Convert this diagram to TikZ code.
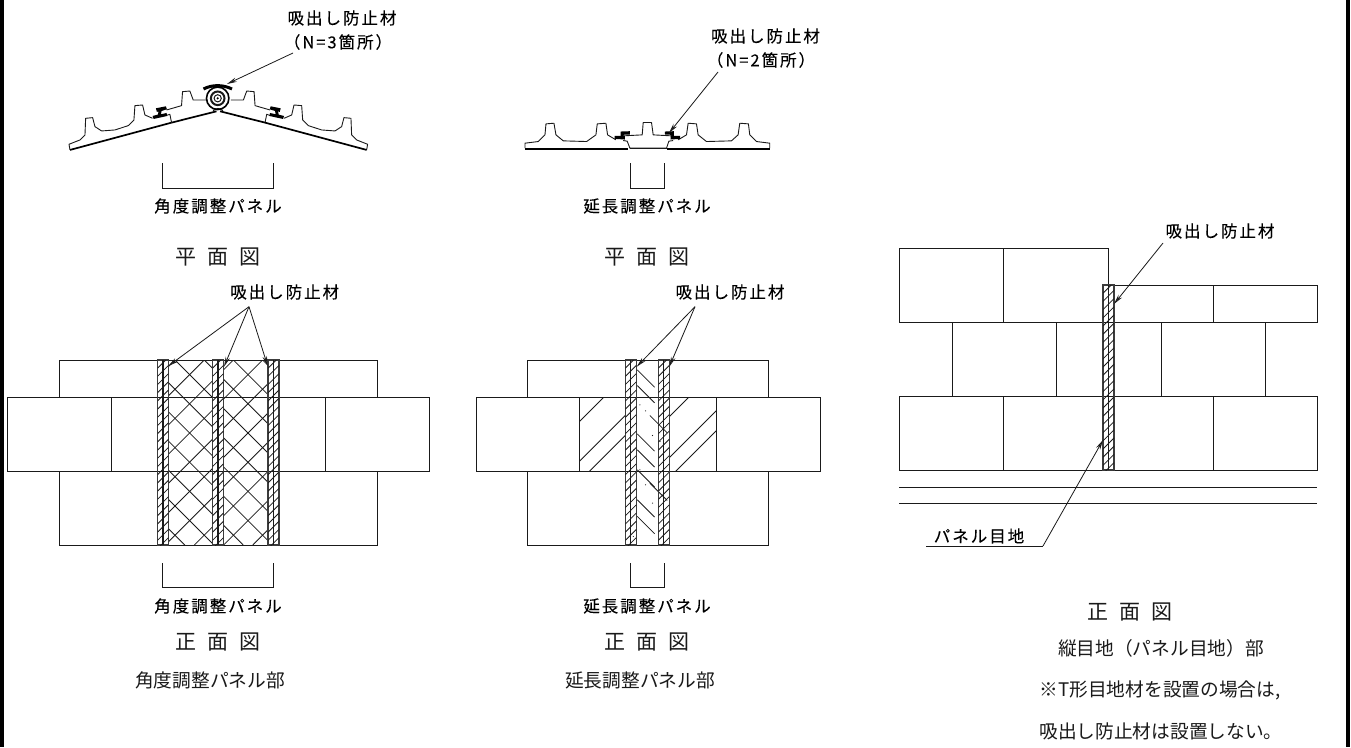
\documentclass[tikz,border=0pt]{standalone}
\usepackage{fontspec}
\usetikzlibrary{arrows.meta}
\newfontfamily\jplabel[LetterSpace=12,FakeBold=0.2]{Noto Sans CJK JP}
\newfontfamily\jpcap{Noto Sans CJK JP}
\definecolor{ink}{HTML}{1A1A1A}
\tikzset{
  ln/.style={draw=ink,line width=1pt},
  hl/.style={draw=ink,line width=.8pt},
  thin prof/.style={draw=ink,line width=.9pt,line join=round},
  leader/.style={draw=ink,line width=.8pt,-{Stealth[length=10pt,width=4.5pt,open,fill=gray]}},
  leadern/.style={draw=ink,line width=.8pt},
  lab/.style={font=\jplabel\fontsize{16.5}{18}\selectfont,inner sep=0pt,text=black},
  captxt/.style={font=\jpcap\fontsize{18.7}{22}\selectfont,inner sep=0pt,text=ink},
  capwide/.style={font=\jpcap\fontsize{21}{24}\selectfont,inner sep=0pt,text=ink},
}
\newcommand{\jstrip}[3]{%
  % #1 left x, #2 top y, #3 bottom y
  \draw[draw=ink!85,line width=1.2pt] (#1,#3) -- (#1,#2) -- (#1+11,#2) -- (#1+11,#3) -- cycle;
  \draw[draw=ink,line width=1.1pt] (#1+5.5,#2) -- (#1+5.5,#3);
  \begin{scope}
    \clip (#1,#2) rectangle (#1+11,#3);
    \foreach \yy in {0,8.2,...,230}{\draw[hl] (#1,#2+\yy) -- ++(11,-11);}
  \end{scope}}
\newcommand{\brk}[4]{\draw[ln] (#1,#3) -- (#1,#4) -- (#2,#4) -- (#2,#3);}
\newcommand{\wingprofile}{%
  \draw[thin prof] (30,195) -- (27,178) -- (60,165) -- (75,150) -- (77,100) -- (98,98) -- (105,125) -- (125,138) -- (165,135) -- (205,122) -- (222,105) -- (225,62) -- (248,60) -- (255,90) -- (278,100);
  \draw[thin prof] (318,92) -- (330,88) -- (335,113);
  \draw[thin prof] (320,75) -- (365,62) -- (368,20) -- (390,18) -- (400,45) -- (438,45);
  \draw[draw=black,line width=1.7pt] (30,195) -- (335,113);
  \draw[draw=black,line width=1.7pt] (335,113) -- (470,79);
  \fill[black] (288,70) -- (318,64) -- (321,73) -- (305,78) -- (303,88) -- (320,84) -- (322,93) -- (281,102) -- (278,93) -- (294,89) -- (296,79) -- (291,81) -- cycle;}
\begin{document}
\begin{tikzpicture}[x=1pt,y=-1pt]
\useasboundingbox (0,0) rectangle (1351,747);
\fill[white] (0,0) rectangle (1351,747);
\fill[black] (0,0) rectangle (4,747);
\fill[black] (1345.5,0) rectangle (1349.5,747);

%% ---- plan, angle panel
\begin{scope}[shift={(60,85)},x=.333pt,y=-.333pt]\wingprofile\end{scope}
\begin{scope}[shift={(376.6,85)},x=-.333pt,y=-.333pt]\wingprofile\end{scope}
\draw[draw=black,line width=1.6pt] (217.7,98.3) circle (11.2);
\draw[draw=ink,line width=2pt] (217.7,98.3) circle (6.8);
\draw[draw=ink,line width=1pt] (217.7,98.3) circle (3.6);
\fill[black] (217.7,98.3) circle (1.2);
\draw[draw=black,line width=3pt] (203.5,89) .. controls (212,84.5) and (223,84.5) .. (232,89);
\draw[draw=black,line width=1pt] (213,110.5) -- (218,108.5) -- (223,110.5);

%% ---- plan, extension panel
\begin{scope}[shift={(510,0)},x=.333pt,y=-.333pt]
  \draw[thin prof] (45,445) -- (45,430) -- (85,425) -- (105,405) -- (108,372) -- (132,370) -- (138,405) -- (160,423) -- (230,425) -- (258,405) -- (262,372) -- (288,370) -- (293,405) -- (318,420);
  \draw[thin prof] (780,445) -- (780,430) -- (740,425) -- (720,405) -- (716,372) -- (690,370) -- (685,405) -- (665,423) -- (590,425) -- (565,405) -- (560,372) -- (535,370) -- (530,405) -- (505,420);
  \draw[thin prof] (340,408) -- (397,405) -- (400,368) -- (425,368) -- (430,405) -- (485,408);
  \draw[thin prof] (340,422) -- (352,424) -- (360,445) -- (470,445) -- (477,424) -- (490,422);
  \draw[draw=black,line width=2pt] (45,447) -- (353,447);
  \draw[draw=black,line width=2pt] (472,447) -- (780,447);
  \draw[draw=ink,line width=.8pt] (360,446) -- (470,446);
  \fill[black] (332,395) -- (360,394) -- (360,404) -- (343,404) -- (340,408) -- (332,408) -- cycle;
  \fill[black] (314,408) -- (345,408) -- (345,419) -- (314,417) -- cycle;
  \fill[black] (465,395) -- (492,394) -- (492,408) -- (485,408) -- (480,404) -- (465,404) -- cycle;
  \fill[black] (482,408) -- (511,408) -- (511,417) -- (482,419) -- cycle;
\end{scope}

%% ---- front, angle panel
\draw[ln] (59,397) -- (59,360) -- (377,360) -- (377,397);
\draw[ln] (7,397) rectangle (429,471);
\draw[ln] (111,397) -- (111,471);
\draw[ln] (325,397) -- (325,471);
\draw[ln] (59,471) -- (59,545) -- (377,545) -- (377,471);
\begin{scope}
  \clip (168.5,360) rectangle (212.5,545) (223.5,360) rectangle (268,545);
  \foreach \k in {-7,...,7}{
    \draw[hl] (175+29.2*\k,360) -- ++(185,185);
    \draw[hl] (175+29.2*\k+146,360) -- ++(-185,185);
  }
\end{scope}
\jstrip{157.5}{360}{545}
\jstrip{212.5}{360}{545}
\jstrip{268}{360}{545}

%% ---- front, extension panel
\draw[ln] (527,397) -- (527,360) -- (768,360) -- (768,397);
\draw[ln] (476,397) rectangle (820,471);
\draw[ln] (579,397) -- (579,471);
\draw[ln] (716,397) -- (716,471);
\draw[ln] (527,471) -- (527,545) -- (768,545) -- (768,471);
\begin{scope}
  \clip (579,397) rectangle (625.5,471);
  \foreach \s in {1001,1040.7,1060.7}{\draw[hl] (560,\s-560) -- ++(100,-100);}
\end{scope}
\begin{scope}
  \clip (669,397) rectangle (716,471);
  \foreach \s in {1086,1127,1147}{\draw[hl] (660,\s-660) -- ++(100,-100);}
\end{scope}
\begin{scope}[shift={(560,270)},x=.333pt,y=-.333pt]
  \foreach \a/\b in {232/300,232/347,270/437,232/492,232/540,232/600,270/640,232/690,232/740}{
    \draw[draw=ink,line width=.8pt] (\a,\b) -- ++(52,52);
  }
  \foreach \p/\q in {240/405,257/423,278/497,240/600,257/645,278/700,222/540,300/515,300/735,220/800}{
    \fill[ink] (\p,\q) circle (1.8);
  }
\end{scope}
\jstrip{625.3}{360}{545}
\jstrip{658.3}{360}{545}

%% ---- front, vertical joint
\draw[ln] (1108,285) -- (1108,248) -- (899,248) -- (899,322) -- (1317,322) -- (1317,285) -- (1103,285);
\draw[ln] (1003,248) -- (1003,322);
\draw[ln] (1213,285) -- (1213,322);
\draw[ln] (952,322) -- (952,396);
\draw[ln] (1056,322) -- (1056,396);
\draw[ln] (1161,322) -- (1161,396);
\draw[ln] (1265,322) -- (1265,396);
\draw[ln] (899,396) rectangle (1317,470);
\draw[ln] (1003,396) -- (1003,470);
\draw[ln] (1213,396) -- (1213,470);
\draw[ln] (899,487) -- (1317,487);
\draw[ln] (899,503) -- (1317,503);
\jstrip{1103}{285}{470}

%% ---- brackets
\brk{162.7}{273.3}{163}{188}
\brk{630.7}{664.3}{163}{188}
\brk{162.7}{273.3}{563}{587}
\brk{630.7}{664.3}{563}{587}

%% ---- labels
\node[lab] (la) at (342,18) {吸出し防止材};
\node[lab] (lan) at (338,42) {（N=3箇所）};
\node[lab] (lb) at (765.5,36) {吸出し防止材};
\node[lab] (lbn) at (761,60) {（N=2箇所）};
\node[lab] (lc) at (284.7,292) {吸出し防止材};
\node[lab] (ld) at (730,292) {吸出し防止材};
\node[lab] (le) at (1220,231) {吸出し防止材};
\node[lab] (pa1) at (218,206) {角度調整パネル};
\node[lab] (pb1) at (647,206) {延長調整パネル};
\node[lab] (pa2) at (218,606) {角度調整パネル};
\node[lab] (pb2) at (647,606) {延長調整パネル};
\node[lab] (pj) at (979,536) {パネル目地};
\node[capwide] (c1) at (218,256.7) {平\hspace{11pt}面\hspace{11pt}図};
\node[capwide] (c2) at (647,256.7) {平\hspace{11pt}面\hspace{11pt}図};
\node[capwide] (c3) at (218,642) {正\hspace{11pt}面\hspace{11pt}図};
\node[capwide] (c4) at (647,642) {正\hspace{11pt}面\hspace{11pt}図};
\node[capwide] (c5) at (1130,612) {正\hspace{11pt}面\hspace{11pt}図};
\node[captxt] (c6) at (210,680) {角度調整パネル部};
\node[captxt] (c7) at (640,680) {延長調整パネル部};
\node[captxt] (c8) at (1161,648) {縦目地（パネル目地）部};
\node[captxt] (c9) at (1160,690) {※T形目地材を設置の場合は,};
\node[captxt] (c10) at (1161,731) {吸出し防止材は設置しない。};

%% ---- leaders
\coordinate (ta0) at (293,53);  \coordinate (ta1) at (227,84);
\draw[leader] (ta0) -- (ta1);
\coordinate (tb0) at (718,72);  \coordinate (tb1) at (669,133);
\draw[leader] (tb0) -- (tb1);
\coordinate (tc0) at (249,306.7);
\coordinate (tc1) at (168.3,366); \coordinate (tc2) at (224,366.7); \coordinate (tc3) at (267.7,366);
\draw[leader] (tc0) -- (tc1);
\draw[leader] (tc0) -- (tc2);
\draw[leader] (tc0) -- (tc3);
\coordinate (td0) at (695,306.7);
\coordinate (td1) at (636.7,366.7); \coordinate (td2) at (669.3,366.7);
\draw[leader] (td0) -- (td1);
\draw[leader] (td0) -- (td2);
\coordinate (te0) at (1163,243); \coordinate (te1) at (1114,304);
\draw[leader] (te0) -- (te1);
\coordinate (tf0) at (926,546); \coordinate (tf1) at (1043,546); \coordinate (tf2) at (1103,440);
\draw[leadern] (tf0) -- (tf1);
\draw[leader] (tf1) -- (tf2);
\end{tikzpicture}
\end{document}
